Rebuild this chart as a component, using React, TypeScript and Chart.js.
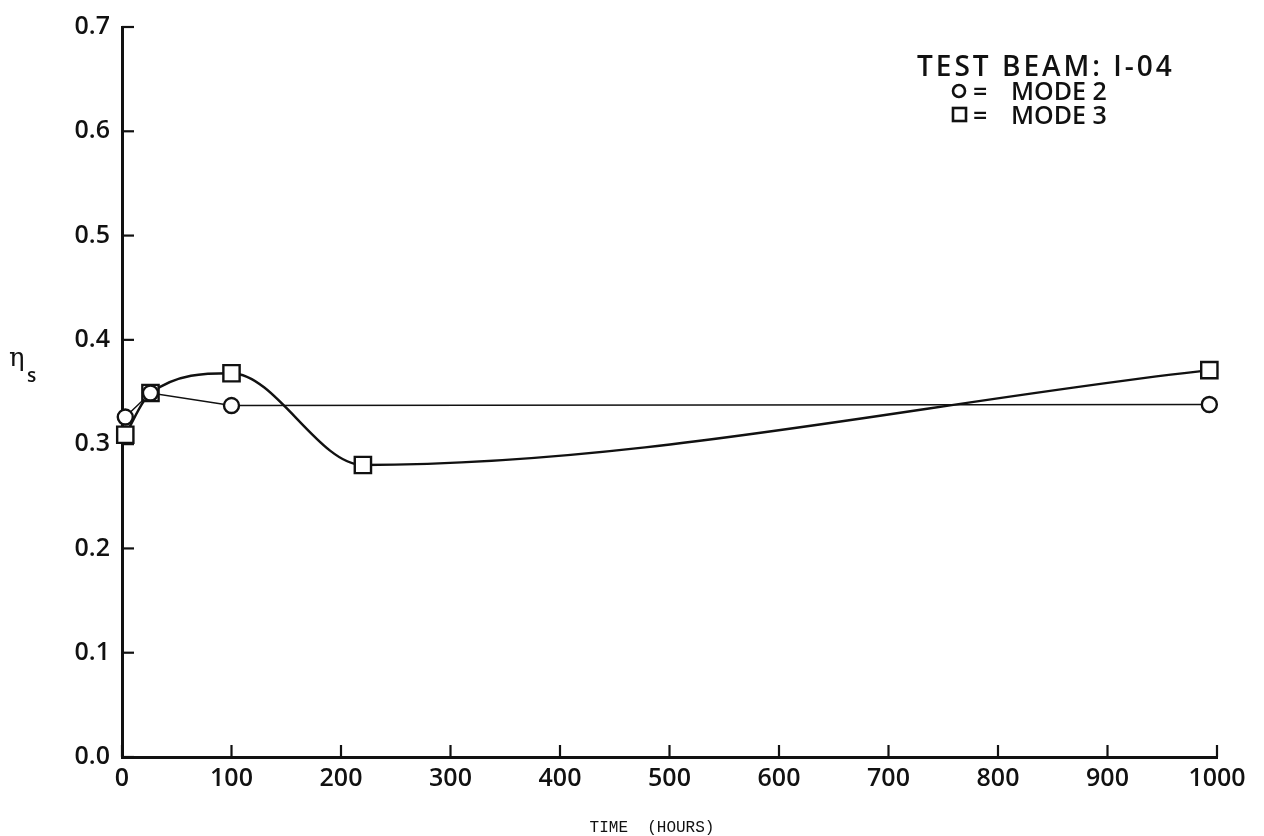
import React, { useEffect, useRef } from "react";
import { Chart, registerables } from "chart.js";

Chart.register(...registerables);

const mode2Hours = [3, 26, 100, 993];
const mode2Eta = [0.326, 0.349, 0.337, 0.338];
const mode3Hours = [3, 26, 100, 220, 993];
const mode3Eta = [0.309, 0.349, 0.368, 0.28, 0.371];
const xTicks = [0, 100, 200, 300, 400, 500, 600, 700, 800, 900, 1000];
const yTicks = [0.0, 0.1, 0.2, 0.3, 0.4, 0.5, 0.6, 0.7];
const legendTitle = "TEST BEAM: I-04";
const legendEq = "=";
const legendMode2 = "MODE 2";
const legendMode3 = "MODE 3";
const xTitle = "TIME  (HOURS)";
const yTitleMain = "η";
const yTitleSub = "s";

const INK = "#111111";
const LABEL_FONT = "'Open Sans'";

const extrasPlugin = {
  id: "extras",
  afterDraw(chart: any) {
    const ctx = chart.ctx;
    const xs = chart.scales.x;
    const ys = chart.scales.y;
    const area = chart.chartArea;
    ctx.save();
    ctx.strokeStyle = INK;
    ctx.lineWidth = 2.2;
    // inward tick marks
    yTicks.forEach((v) => {
      const py = ys.getPixelForValue(v);
      ctx.beginPath();
      ctx.moveTo(area.left, py);
      ctx.lineTo(area.left + 12, py);
      ctx.stroke();
    });
    xTicks.forEach((v) => {
      const px = xs.getPixelForValue(v);
      ctx.beginPath();
      ctx.moveTo(px, area.bottom);
      ctx.lineTo(px, area.bottom - 12);
      ctx.stroke();
    });
    // y title
    ctx.fillStyle = INK;
    ctx.textAlign = "left";
    ctx.textBaseline = "alphabetic";
    ctx.font = "26px 'DejaVu Serif'";
    ctx.fillText(yTitleMain, 9, 366);
    ctx.font = "600 19px " + LABEL_FONT;
    ctx.fillText(yTitleSub, 27, 382);
    // x title
    ctx.font = "16px 'Liberation Mono'";
    ctx.textAlign = "center";
    ctx.fillText(xTitle, 652, 832);
    // legend
    ctx.textAlign = "left";
    ctx.font = "600 28px " + LABEL_FONT;
    (ctx as any).letterSpacing = "3px";
    ctx.fillText(legendTitle, 917, 76);
    (ctx as any).letterSpacing = "0px";
    ctx.font = "600 25px " + LABEL_FONT;
    ctx.fillText(legendEq, 973, 100);
    ctx.fillText(legendEq, 973, 124);
    ctx.fillText(legendMode2, 1011, 100);
    ctx.fillText(legendMode3, 1011, 124);
    ctx.lineWidth = 2.6;
    ctx.beginPath();
    ctx.arc(959, 91, 6, 0, Math.PI * 2);
    ctx.stroke();
    ctx.strokeRect(953, 108, 13, 13);
    ctx.restore();
  },
};

export default function App() {
  const canvasRef = useRef<HTMLCanvasElement | null>(null);

  useEffect(() => {
    const canvas = canvasRef.current;
    if (!canvas) return;
    const chart = new Chart(canvas, {
      type: "line",
      data: {
        datasets: [
          {
            label: "MODE 2",
            data: mode2Hours.map((h, i) => ({ x: h, y: mode2Eta[i] })),
            borderColor: INK,
            borderWidth: 1.5,
            tension: 0,
            pointStyle: "circle",
            pointRadius: 7.5,
            pointBorderWidth: 2.4,
            pointBorderColor: INK,
            pointBackgroundColor: "#ffffff",
            clip: false as any,
          },
          {
            label: "MODE 3",
            data: mode3Hours.map((h, i) => ({ x: h, y: mode3Eta[i] })),
            borderColor: INK,
            borderWidth: 2.4,
            cubicInterpolationMode: "monotone",
            pointStyle: "rect",
            pointRadius: 11.5,
            pointBorderWidth: 2.4,
            pointBorderColor: INK,
            pointBackgroundColor: "#ffffff",
            clip: false as any,
          },
        ],
      },
      options: {
        animation: false,
        responsive: false,
        layout: { padding: { left: 8, right: 47, top: 22, bottom: 0 } },
        plugins: {
          legend: { display: false },
          tooltip: { enabled: false },
          title: { display: false },
        },
        scales: {
          x: {
            type: "linear",
            min: 0,
            max: 1000,
            afterFit: (s: any) => {
              s.height = 79;
            },
            afterBuildTicks: (s: any) => {
              s.ticks = xTicks.map((v) => ({ value: v }));
            },
            grid: { display: false, drawTicks: false },
            border: { display: true, color: INK, width: 3 },
            ticks: {
              color: INK,
              padding: 7,
              maxRotation: 0,
              autoSkip: false,
              font: { family: LABEL_FONT, size: 25, weight: "600" },
              callback: (v: any) => String(v),
            },
          },
          y: {
            type: "linear",
            min: 0,
            max: 0.7,
            afterFit: (s: any) => {
              s.width = 114;
            },
            afterBuildTicks: (s: any) => {
              s.ticks = yTicks.map((v) => ({ value: v }));
            },
            grid: { display: false, drawTicks: false },
            border: { display: true, color: INK, width: 3 },
            ticks: {
              color: INK,
              padding: 12,
              autoSkip: false,
              font: { family: LABEL_FONT, size: 25, weight: "600" },
              callback: (v: any) => Number(v).toFixed(1),
            },
          },
        },
      },
      plugins: [extrasPlugin],
    });
    return () => chart.destroy();
  }, []);

  return (
    <div style={{ position: "absolute", left: 0, top: 0, width: 1264, height: 836, background: "#fff" }}>
      <canvas ref={canvasRef} width={1264} height={836} />
    </div>
  );
}
